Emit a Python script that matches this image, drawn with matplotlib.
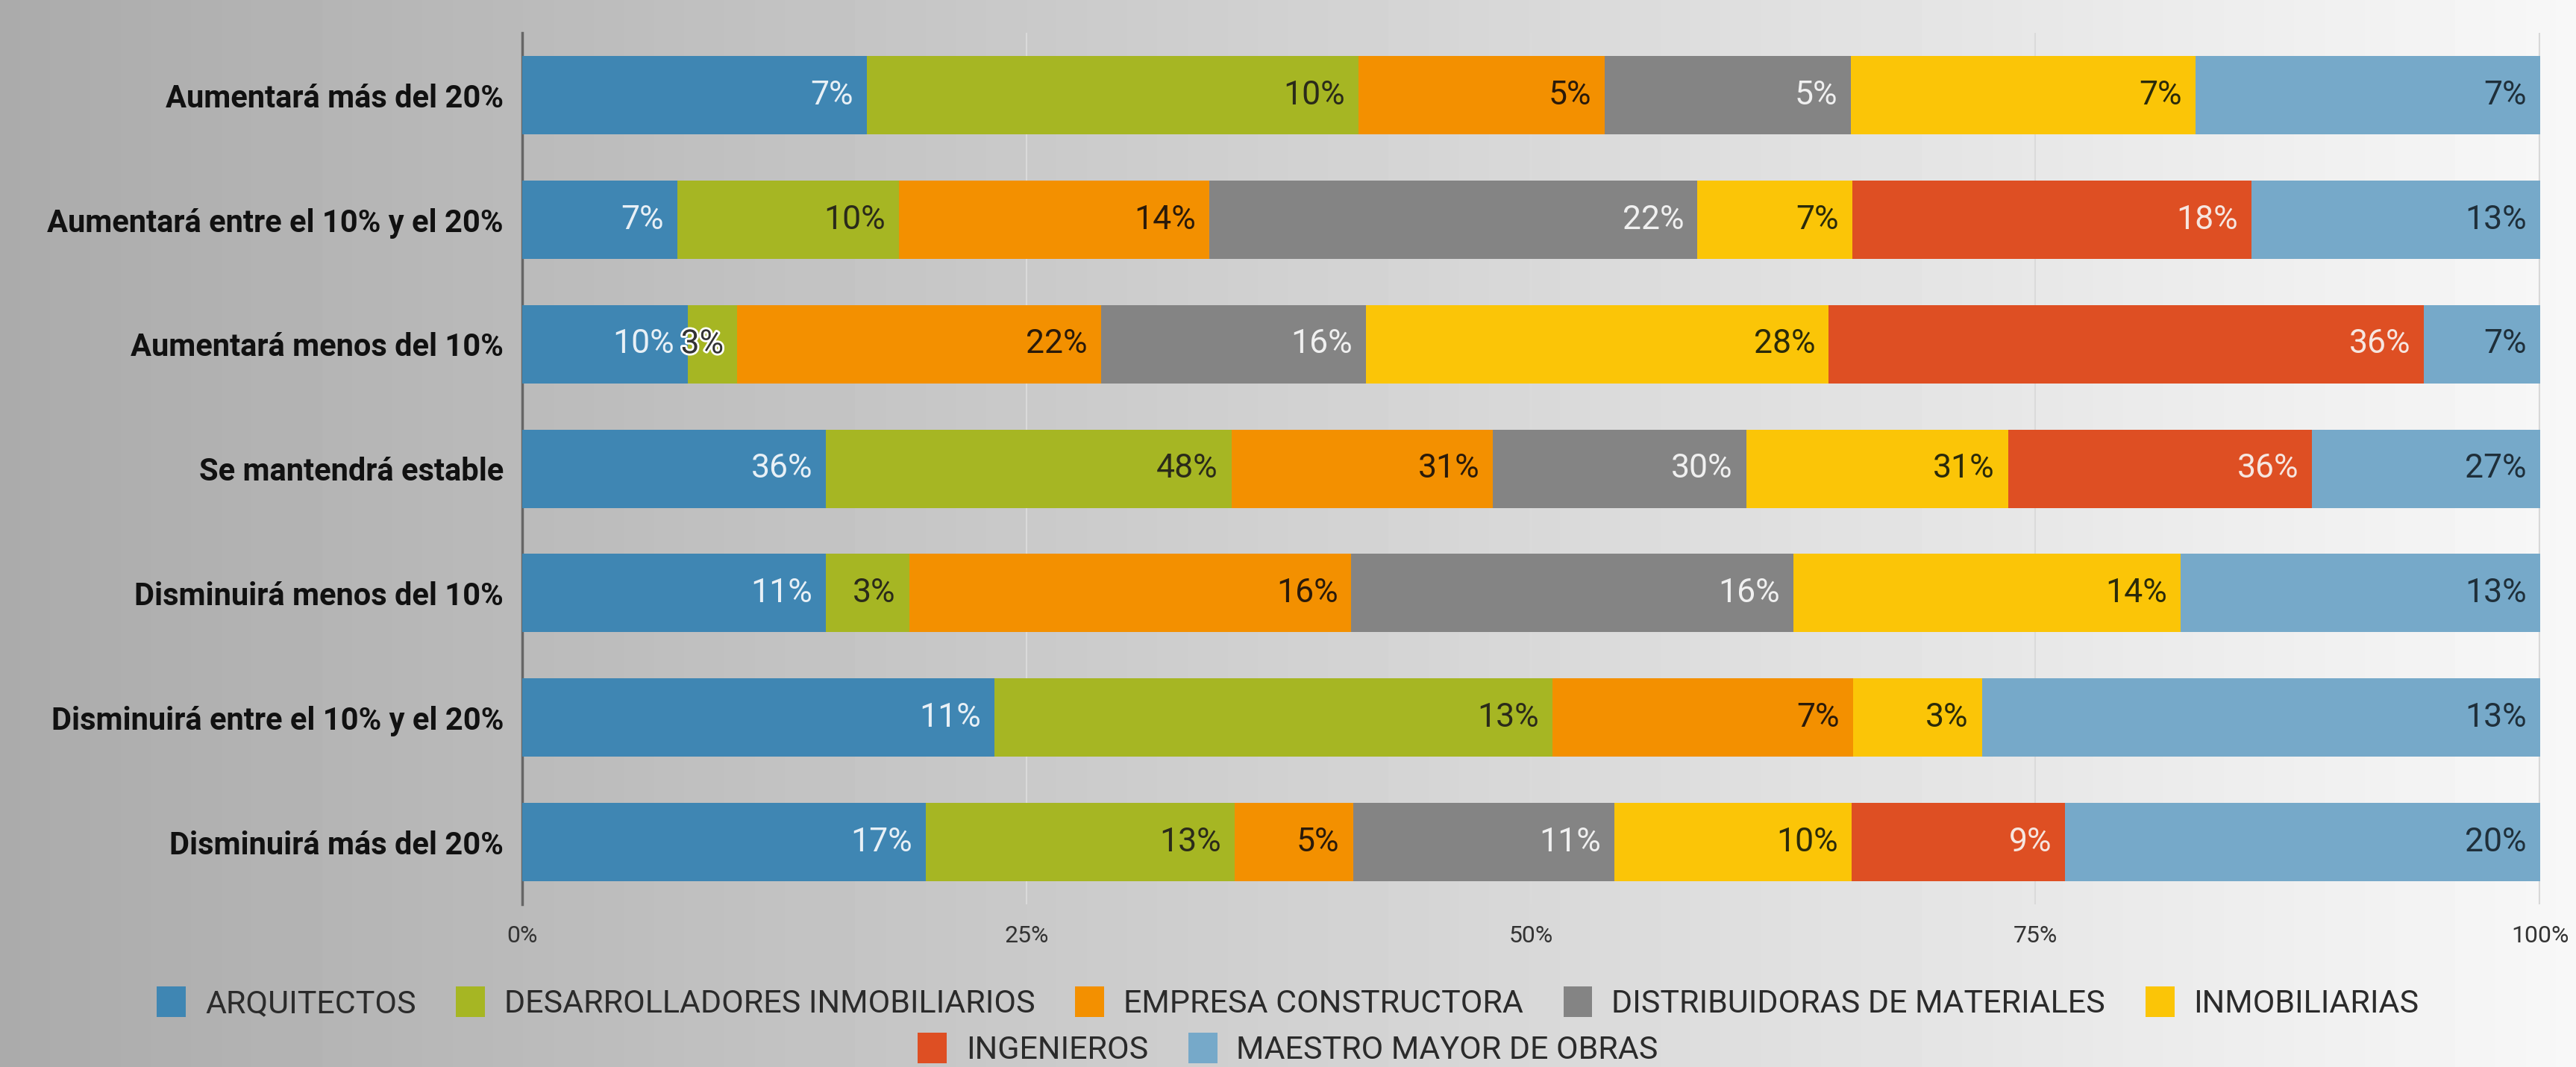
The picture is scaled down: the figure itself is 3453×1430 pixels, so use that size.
import numpy as np
import matplotlib
matplotlib.use("Agg")
from matplotlib import pyplot as plt
import matplotlib.patheffects as pe

plt.rcParams['font.family'] = ['Roboto', 'DejaVu Sans']

# data
categories = ['Aumentará más del 20%', 'Aumentará entre el 10% y el 20%',
              'Aumentará menos del 10%', 'Se mantendrá estable',
              'Disminuirá menos del 10%', 'Disminuirá entre el 10% y el 20%',
              'Disminuirá más del 20%']
groups = ['ARQUITECTOS', 'DESARROLLADORES INMOBILIARIOS', 'EMPRESA CONSTRUCTORA',
          'DISTRIBUIDORAS DE MATERIALES', 'INMOBILIARIAS', 'INGENIEROS',
          'MAESTRO MAYOR DE OBRAS']
arquitectos = [7, 7, 10, 36, 11, 11, 17]
desarrolladores = [10, 10, 3, 48, 3, 13, 13]
constructora = [5, 14, 22, 31, 16, 7, 5]
distribuidoras = [5, 22, 16, 30, 16, 0, 11]
inmobiliarias = [7, 7, 28, 31, 14, 3, 10]
ingenieros = [0, 18, 36, 36, 0, 0, 9]
maestro_mayor = [7, 13, 7, 27, 13, 13, 20]
xticks = [0, 25, 50, 75, 100]

colors = ['#3f86b3', '#a6b623', '#f39000', '#848484', '#fbc507', '#de4f23', '#76a9c9']
label_colors = ['#e8f0f6', '#2a2a1a', '#2a1a0a', '#f0f0f0', '#2a2a0a', '#f6e6e0', '#1f2f3a']

series = np.array([arquitectos, desarrolladores, constructora, distribuidoras,
                   inmobiliarias, ingenieros, maestro_mayor], dtype=float)
totals = series.sum(axis=0)
shares = series / totals * 100

fig = plt.figure(figsize=(34.53, 14.30), dpi=100)

# gradient background
bg = fig.add_axes([0, 0, 1, 1], zorder=-10)
grad = np.linspace(0.67, 0.97, 256).reshape(1, -1)
bg.imshow(grad, aspect='auto', cmap='gray', vmin=0, vmax=1, extent=[0, 1, 0, 1])
bg.axis('off')

ax = fig.add_axes([0.2027, 0.1525, 0.7833, 0.8165])
ax.patch.set_alpha(0)
y = np.arange(len(categories))
left = np.zeros(len(categories))
for i, g in enumerate(groups):
    ax.barh(y, shares[i], left=left, height=0.63, color=colors[i], label=g, zorder=3)
    for j in range(len(categories)):
        if series[i][j] <= 0:
            continue
        t = ax.annotate('%d%%' % series[i][j], (left[j] + shares[i][j], y[j]),
                        xytext=(-13, 0), textcoords='offset points',
                        ha='right', va='center', fontsize=32, color=label_colors[i], zorder=5)
        if shares[i][j] < 4:
            t.set_color('#333333')
            t.set_path_effects([pe.withStroke(linewidth=4, foreground='white')])
    left = left + shares[i]

ax.set_xlim(0, 100)
ax.set_ylim(len(categories) - 0.5, -0.5)
ax.set_yticks(y)
ax.set_yticklabels(categories, fontsize=30, fontweight='bold', color='#111111')
ax.set_xticks(xticks)
ax.set_xticklabels(['%d%%' % v for v in xticks], fontsize=23, color='#333333')
ax.tick_params(axis='y', length=0, pad=18)
ax.tick_params(axis='x', length=0, pad=20)
for v in xticks[1:4]:
    ax.axvline(v, color='#dadada', lw=1.5, zorder=1)
ax.axvline(100, color='#d8d8d8', lw=3, zorder=1)
for s in ['top', 'right', 'bottom']:
    ax.spines[s].set_visible(False)
ax.spines['left'].set_color('#666666')
ax.spines['left'].set_linewidth(2.5)

handles, labels = ax.get_legend_handles_labels()
leg_kw = dict(frameon=False, fontsize=31, handlelength=0.9, handleheight=1.1,
              handletextpad=0.6, columnspacing=1.25, labelcolor='#2b2b2b')
fig.legend(handles[:5], labels[:5], ncol=5, loc='center', bbox_to_anchor=(0.5, 0.06), **leg_kw)
fig.legend(handles[5:], labels[5:], ncol=2, loc='center', bbox_to_anchor=(0.5, 0.017), **leg_kw)

fig.savefig('out.png', dpi=100)
